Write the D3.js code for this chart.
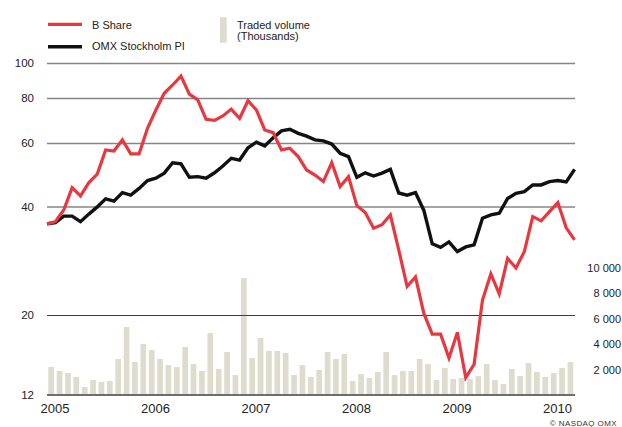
<!DOCTYPE html>
<html>
<head>
<meta charset="utf-8">
<script src="https://cdn.jsdelivr.net/npm/d3@7"></script>
<style>
  html, body { margin: 0; padding: 0; background: #fff; }
  svg { display: block; font-family: "Liberation Sans", Arial, Helvetica, sans-serif; }
</style>
</head>
<body>
<svg id="chart" width="622" height="427"></svg>
<script>
// ---- data (monthly, Jan 2005 .. Apr 2010 for lines; Jan 2005 .. Mar 2010 for volume) ----
const yearLabels = ["2005", "2006", "2007", "2008", "2009", "2010"];
const bShare = [35.8, 36.3, 39.1, 45.1, 42.8, 46.6, 49.2, 57.4, 57.0, 61.2, 56.0, 56.0,
  65.9, 74.1, 82.4, 86.9, 92.0, 82.0, 79.0, 69.8, 69.3, 71.3, 74.5, 70.2,
  78.6, 74.1, 65.2, 64.1, 57.4, 58.0, 55.0, 50.5, 48.9, 46.9, 52.9, 45.4,
  48.4, 40.2, 38.5, 34.8, 35.6, 37.9, 30.3, 24.0, 25.5, 20.2, 17.7, 17.7,
  15.2, 17.9, 13.4, 14.6, 22.0, 26.0, 22.9, 28.7, 27.0, 30.0, 37.5, 36.5,
  38.7, 41.0, 34.9, 32.3];
const omxPI = [35.8, 36.1, 37.6, 37.6, 36.3, 38.1, 39.9, 42.0, 41.4, 43.7, 43.0, 44.9,
  47.2, 47.9, 49.5, 52.9, 52.5, 48.2, 48.4, 47.9, 49.6, 51.8, 54.4, 53.8,
  58.2, 60.3, 58.9, 62.0, 64.8, 65.5, 63.8, 62.7, 61.2, 60.8, 59.6, 56.2,
  55.0, 48.2, 49.6, 48.6, 49.5, 50.7, 43.6, 43.0, 43.7, 39.0, 31.5, 30.8,
  31.9, 30.0, 30.9, 31.3, 37.1, 37.9, 38.3, 42.1, 43.5, 44.0, 45.9, 45.9,
  46.9, 47.2, 46.8, 50.7];
const volume = [2200, 1890, 1730, 1420, 630, 1180, 1020, 1100, 2830, 5350, 2600, 4020,
  3540, 2830, 2360, 2200, 3780, 2440, 1890, 4880, 2050, 3390, 1570, 9210,
  2910, 4490, 3460, 3460, 3310, 1570, 2360, 1420, 1970, 3390, 2830, 3230,
  1100, 1650, 1340, 1810, 3390, 1570, 1890, 1890, 2830, 2440, 1180, 2130,
  1260, 1340, 1260, 1500, 2440, 1180, 870, 2050, 1500, 2520, 1810, 1420,
  1730, 2130, 2600];
const priceTicks = [12, 20, 40, 60, 80, 100];
const volumeTicks = [2000, 4000, 6000, 8000, 10000];

// ---- layout ----
const svg = d3.select("#chart");
const mLeft = 47, mRight = 574.6, mTop = 63, mBottom = 395;
const red = "#e8383f", black = "#111111", barColor = "#dddccd", grid = "#868686";

const x = d3.scaleLinear().domain([0, bShare.length - 1]).range([mLeft, mRight]);
const xBand = d3.scaleBand().domain(d3.range(volume.length)).range([mLeft, x(volume.length)]).paddingInner(0.32).paddingOuter(0.16);
const y = d3.scaleLog().domain([12, 100]).range([mBottom, mTop]);
const yv = d3.scaleLinear().domain([0, 10000]).range([mBottom, 268]);

// bars
svg.append("g").selectAll("rect").data(volume).join("rect")
  .attr("x", (d, i) => xBand(i))
  .attr("width", xBand.bandwidth())
  .attr("y", d => yv(d))
  .attr("height", d => mBottom - yv(d))
  .attr("fill", barColor);

// gridlines
const gAxis = svg.append("g").attr("transform", `translate(${mLeft},0)`)
  .call(d3.axisRight(y).tickValues(priceTicks.slice(1)).tickSize(mRight - mLeft + 0.5).tickFormat(""));
gAxis.select(".domain").remove();
gAxis.selectAll(".tick line")
  .attr("stroke", d => d === 20 ? "#3c3c3c" : grid)
  .attr("stroke-width", d => d === 20 ? 1.1 : 1.4);

// left labels
const gLabels = svg.append("g").attr("transform", `translate(34,0)`)
  .call(d3.axisLeft(y).tickValues(priceTicks).tickSize(0).tickPadding(0).tickFormat(d3.format("d")));
gLabels.select(".domain").remove();
gLabels.selectAll("text").attr("font-size", "11.5px").attr("fill", "#222")
  .attr("font-family", "Liberation Sans, Arial, sans-serif");

// baseline
svg.append("line").attr("x1", mLeft).attr("x2", mRight + 0.5).attr("y1", y(12)).attr("y2", y(12))
  .attr("stroke", "#6e6e6e").attr("stroke-width", 2);

// right volume axis
const gVol = svg.append("g").attr("transform", `translate(621,0)`)
  .call(d3.axisLeft(yv).tickValues(volumeTicks).tickSize(0).tickPadding(0)
    .tickFormat(d => d3.format(",")(d).replace(/,/g, " ")));
gVol.select(".domain").remove();
gVol.selectAll("text").attr("font-size", "11px").attr("fill", "#222")
  .attr("font-family", "Liberation Sans, Arial, sans-serif");

// year labels
const gX = svg.append("g").attr("transform", `translate(7.5,${mBottom})`)
  .call(d3.axisBottom(x).tickValues(yearLabels.map((d, i) => i * 12)).tickSize(0).tickPadding(9)
    .tickFormat((d, i) => yearLabels[i]));
gX.select(".domain").remove();
gX.selectAll("text").attr("font-size", "13px").attr("fill", "#222")
  .attr("font-family", "Liberation Sans, Arial, sans-serif");

// lines
const line = d3.line().x((d, i) => x(i)).y(d => y(d));
svg.append("path").datum(omxPI).attr("d", line)
  .attr("fill", "none").attr("stroke", black).attr("stroke-width", 3.4).attr("stroke-linejoin", "miter");
svg.append("path").datum(bShare).attr("d", line)
  .attr("fill", "none").attr("stroke", red).attr("stroke-width", 3.2).attr("stroke-linejoin", "miter");

// legend
const lg = svg.append("g").attr("font-size", "11px").attr("fill", "#222");
lg.append("line").attr("x1", 48).attr("x2", 82).attr("y1", 24.3).attr("y2", 24.3).attr("stroke", red).attr("stroke-width", 3.2);
lg.append("text").attr("x", 92).attr("y", 28.5).text("B Share");
lg.append("line").attr("x1", 48).attr("x2", 82).attr("y1", 46.7).attr("y2", 46.7).attr("stroke", black).attr("stroke-width", 3.4);
lg.append("text").attr("x", 92).attr("y", 50).text("OMX Stockholm PI");
lg.append("rect").attr("x", 220).attr("y", 17.3).attr("width", 6.7).attr("height", 25.4).attr("fill", barColor);
lg.append("text").attr("x", 237).attr("y", 28.5).text("Traded volume");
lg.append("text").attr("x", 237).attr("y", 40).text("(Thousands)");

// credit
svg.append("text").attr("x", 617).attr("y", 425.5).attr("text-anchor", "end")
  .attr("font-size", "8px").attr("fill", "#333").attr("letter-spacing", "0.4px")
  .text("\u00A9  NASDAQ OMX");
</script>
</body>
</html>
